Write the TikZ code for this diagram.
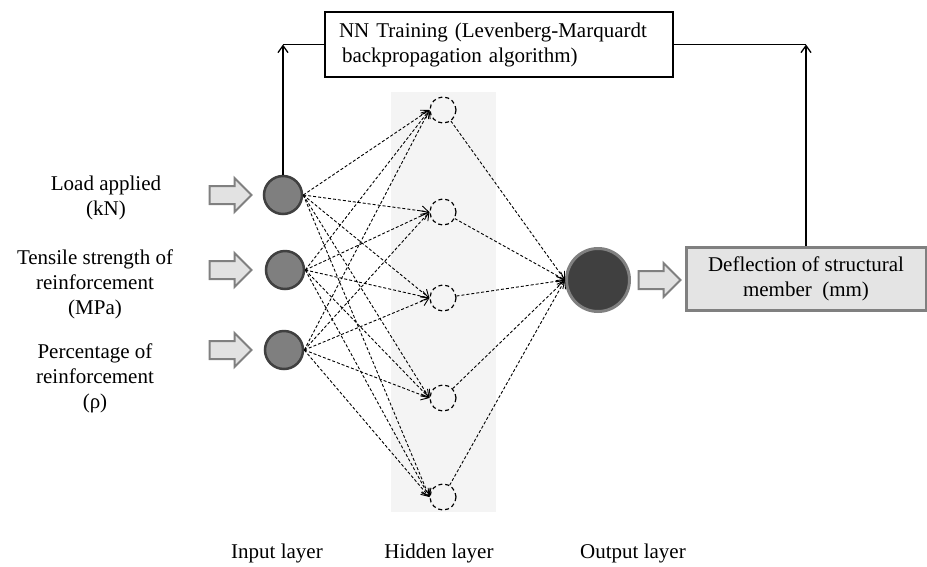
\documentclass[tikz,border=0pt]{standalone}
\usepackage{fontspec}
\setmainfont{Liberation Serif}
\usetikzlibrary{shapes.arrows,arrows.meta}

\definecolor{infill}{HTML}{7F7F7F}
\definecolor{inedge}{HTML}{404040}
\definecolor{outfill}{HTML}{404040}
\definecolor{outedge}{HTML}{808080}
\definecolor{fatfill}{HTML}{E2E2E2}
\definecolor{resfill}{HTML}{E4E4E4}
\definecolor{layerbg}{HTML}{F4F4F4}

\begin{document}
\begin{tikzpicture}[x=1pt,y=-1pt,
  >={Straight Barb[length=7pt,width=10pt]},
  font=\fontsize{21}{25}\selectfont,
  inp/.style={circle,fill=infill,draw=inedge,line width=2.5pt,minimum size=38pt,inner sep=0pt},
  hid/.style={circle,draw,line width=1.2pt,dash pattern=on 4pt off 3pt,minimum size=26pt,inner sep=0pt},
  outp/.style={circle,fill=outfill,draw=outedge,line width=3pt,minimum size=63pt,inner sep=0pt},
  fat/.style={single arrow,draw=outedge,fill=fatfill,line width=2pt,minimum height=42pt,
    minimum width=33pt,inner sep=8pt,single arrow head extend=8pt},
  link/.style={->,line width=0.9pt,dash pattern=on 3pt off 2pt},
  feed/.style={line width=1.3pt}]
\useasboundingbox (0,0) rectangle (927,566);
\fill [layerbg] (391,92) rectangle (496,512);

% input layer
\node [align=center] (L1) at (106,198) {Load applied\\(kN)};
\node [align=center] (L2) at (95,284) {Tensile strength of\\reinforcement\\(MPa)};
\node [align=center] (L3) at (95,378) {Percentage of\\reinforcement\\(ρ)};
\node [fat] (A1) at (226,195) {};
\node [fat] (A2) at (226,270) {};
\node [fat] (A3) at (226,350) {};
\node [inp] (I1) at (283,195) {};
\node [inp] (I2) at (285,270) {};
\node [inp] (I3) at (284,350) {};

% hidden layer
\node [hid] (H1) at (443,110) {};
\node [hid] (H2) at (443,212) {};
\node [hid] (H3) at (443,298) {};
\node [hid] (H4) at (443,398) {};
\node [hid] (H5) at (443,497) {};

% output layer
\node [outp] (O) at (598,280) {};
\node [fat] (A4) at (655,280) {};
\node [fill=resfill,draw=outedge,line width=3pt,minimum width=240pt,minimum height=63pt,
  align=center] (R) at (806,279) {Deflection of structural\\member~~(mm)};

% training box
\node [draw,feed,text width=320pt,inner xsep=14pt,minimum height=65pt,align=left] (T) at (499,44.5)
  {NN Training (Levenberg-Marquardt\\\hspace*{3pt}backpropagation algorithm)};

\foreach \i in {1,2,3}
  \foreach \h in {1,...,5}
    \draw [link] (I\i.east) -- (H\h.west);
\foreach \h in {1,...,5}
  \draw [link] (H\h) -- (O.west);

\coordinate (C1) at (I1 |- T.west);
\coordinate (C2) at (R.north |- T.east);
\draw [feed,->] (I1) -- (C1);
\draw [feed] (C1) -- (T.west);
\draw [feed,->] (R) -- (C2);
\draw [feed] (C2) -- (T.east);

\node [anchor=base] (N1) at (277,558) {Input layer};
\node [anchor=base] (N2) at (439,558) {Hidden layer};
\node [anchor=base] (N3) at (633,558) {Output layer};
\end{tikzpicture}
\end{document}
